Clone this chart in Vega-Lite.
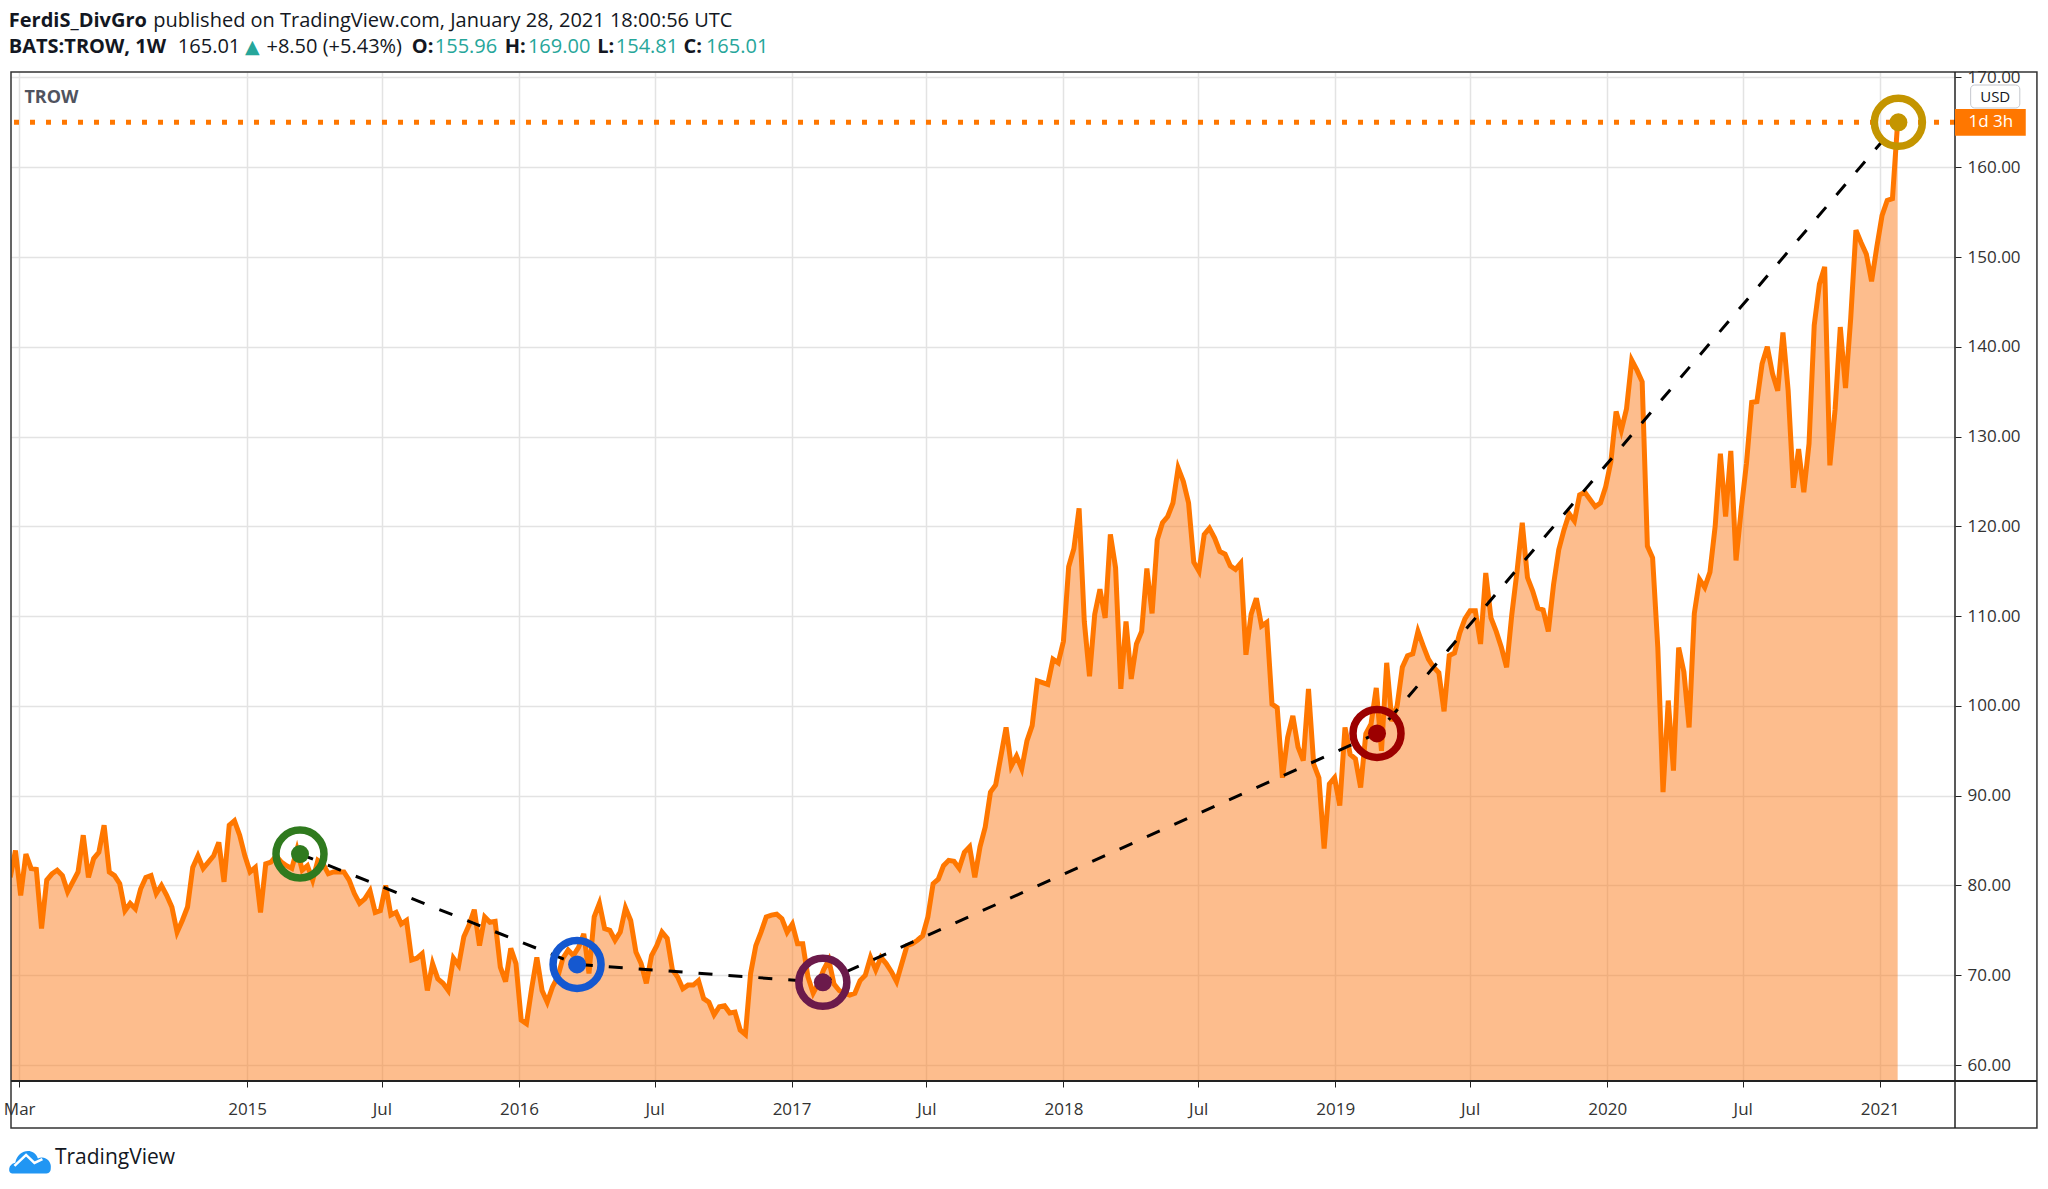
{
  "$schema": "https://vega.github.io/schema/vega-lite/v6.json",
  "width": 1944,
  "height": 1009,
  "autosize": {"type": "none"},
  "padding": {"left": 11, "top": 72, "right": 93, "bottom": 108},
  "background": "#ffffff",
  "config": {
    "view": {"stroke": null},
    "text": {"font": "Open Sans"},
    "axis": {"labelFont": "Open Sans"}
  },
  "datasets": {
    "weekly": [
      {"date":"2014-02-17","close":80.9},{"date":"2014-02-24","close":83.9},{"date":"2014-03-03","close":78.9},{"date":"2014-03-10","close":83.5},
      {"date":"2014-03-17","close":81.9},{"date":"2014-03-24","close":81.8},{"date":"2014-03-31","close":75.2},{"date":"2014-04-07","close":80.6},
      {"date":"2014-04-14","close":81.3},{"date":"2014-04-21","close":81.7},{"date":"2014-04-28","close":81.1},{"date":"2014-05-05","close":79.3},
      {"date":"2014-05-12","close":80.4},{"date":"2014-05-19","close":81.5},{"date":"2014-05-26","close":85.6},{"date":"2014-06-02","close":80.9},
      {"date":"2014-06-09","close":83.0},{"date":"2014-06-16","close":83.7},{"date":"2014-06-23","close":86.7},{"date":"2014-06-30","close":81.5},
      {"date":"2014-07-07","close":81.1},{"date":"2014-07-14","close":80.2},{"date":"2014-07-21","close":77.2},{"date":"2014-07-28","close":78.0},
      {"date":"2014-08-04","close":77.4},{"date":"2014-08-11","close":79.6},{"date":"2014-08-18","close":80.9},{"date":"2014-08-25","close":81.1},
      {"date":"2014-09-01","close":79.1},{"date":"2014-09-08","close":80.0},{"date":"2014-09-15","close":78.9},{"date":"2014-09-22","close":77.6},
      {"date":"2014-09-29","close":74.8},{"date":"2014-10-06","close":76.1},{"date":"2014-10-13","close":77.6},{"date":"2014-10-20","close":82.0},
      {"date":"2014-10-27","close":83.3},{"date":"2014-11-03","close":81.9},{"date":"2014-11-10","close":82.6},{"date":"2014-11-17","close":83.3},
      {"date":"2014-11-24","close":84.8},{"date":"2014-12-01","close":80.4},{"date":"2014-12-08","close":86.7},{"date":"2014-12-15","close":87.2},
      {"date":"2014-12-22","close":85.6},{"date":"2014-12-29","close":83.3},{"date":"2015-01-05","close":81.5},{"date":"2015-01-12","close":82.0},
      {"date":"2015-01-19","close":77.0},{"date":"2015-01-26","close":82.4},{"date":"2015-02-02","close":82.6},{"date":"2015-02-09","close":83.3},
      {"date":"2015-02-16","close":82.6},{"date":"2015-02-23","close":82.2},{"date":"2015-03-02","close":81.9},{"date":"2015-03-09","close":84.0},
      {"date":"2015-03-16","close":81.7},{"date":"2015-03-23","close":82.2},{"date":"2015-03-30","close":80.6},{"date":"2015-04-06","close":82.8},
      {"date":"2015-04-13","close":82.4},{"date":"2015-04-20","close":81.3},{"date":"2015-04-27","close":81.5},{"date":"2015-05-04","close":81.5},
      {"date":"2015-05-11","close":81.5},{"date":"2015-05-18","close":80.6},{"date":"2015-05-25","close":79.1},{"date":"2015-06-01","close":78.0},
      {"date":"2015-06-08","close":78.5},{"date":"2015-06-15","close":79.4},{"date":"2015-06-22","close":77.0},{"date":"2015-06-29","close":77.2},
      {"date":"2015-07-06","close":80.0},{"date":"2015-07-13","close":76.7},{"date":"2015-07-20","close":77.0},{"date":"2015-07-27","close":75.7},
      {"date":"2015-08-03","close":76.1},{"date":"2015-08-10","close":71.7},{"date":"2015-08-17","close":71.9},{"date":"2015-08-24","close":72.4},
      {"date":"2015-08-31","close":68.3},{"date":"2015-09-07","close":71.3},{"date":"2015-09-14","close":69.6},{"date":"2015-09-21","close":69.1},
      {"date":"2015-09-28","close":68.3},{"date":"2015-10-05","close":71.9},{"date":"2015-10-12","close":71.1},{"date":"2015-10-19","close":74.3},
      {"date":"2015-10-26","close":75.6},{"date":"2015-11-02","close":77.3},{"date":"2015-11-09","close":73.3},{"date":"2015-11-16","close":76.5},
      {"date":"2015-11-23","close":75.9},{"date":"2015-11-30","close":76.0},{"date":"2015-12-07","close":70.9},{"date":"2015-12-14","close":69.3},
      {"date":"2015-12-21","close":73.0},{"date":"2015-12-28","close":71.3},{"date":"2016-01-04","close":65.0},{"date":"2016-01-11","close":64.6},
      {"date":"2016-01-18","close":68.5},{"date":"2016-01-25","close":72.0},{"date":"2016-02-01","close":68.3},{"date":"2016-02-08","close":67.0},
      {"date":"2016-02-15","close":68.7},{"date":"2016-02-22","close":69.8},{"date":"2016-02-29","close":71.9},{"date":"2016-03-07","close":72.8},
      {"date":"2016-03-14","close":72.2},{"date":"2016-03-21","close":73.1},{"date":"2016-03-28","close":74.6},{"date":"2016-04-04","close":70.2},
      {"date":"2016-04-11","close":76.5},{"date":"2016-04-18","close":78.0},{"date":"2016-04-25","close":75.2},{"date":"2016-05-02","close":75.0},
      {"date":"2016-05-09","close":73.9},{"date":"2016-05-16","close":74.8},{"date":"2016-05-23","close":77.5},{"date":"2016-05-30","close":76.1},
      {"date":"2016-06-06","close":72.6},{"date":"2016-06-13","close":71.3},{"date":"2016-06-20","close":69.1},{"date":"2016-06-27","close":72.2},
      {"date":"2016-07-04","close":73.3},{"date":"2016-07-11","close":74.8},{"date":"2016-07-18","close":74.1},{"date":"2016-07-25","close":70.6},
      {"date":"2016-08-01","close":69.8},{"date":"2016-08-08","close":68.5},{"date":"2016-08-15","close":68.9},{"date":"2016-08-22","close":68.9},
      {"date":"2016-08-29","close":69.4},{"date":"2016-09-05","close":67.4},{"date":"2016-09-12","close":67.0},{"date":"2016-09-19","close":65.6},
      {"date":"2016-09-26","close":66.5},{"date":"2016-10-03","close":66.6},{"date":"2016-10-10","close":65.8},{"date":"2016-10-17","close":65.9},
      {"date":"2016-10-24","close":63.9},{"date":"2016-10-31","close":63.4},{"date":"2016-11-07","close":70.2},{"date":"2016-11-14","close":73.3},
      {"date":"2016-11-21","close":74.8},{"date":"2016-11-28","close":76.5},{"date":"2016-12-05","close":76.7},{"date":"2016-12-12","close":76.8},
      {"date":"2016-12-19","close":76.3},{"date":"2016-12-26","close":74.8},{"date":"2017-01-02","close":75.7},{"date":"2017-01-09","close":73.5},
      {"date":"2017-01-16","close":73.5},{"date":"2017-01-23","close":69.8},{"date":"2017-01-30","close":68.0},{"date":"2017-02-06","close":69.1},
      {"date":"2017-02-13","close":70.6},{"date":"2017-02-20","close":71.7},{"date":"2017-02-27","close":69.0},{"date":"2017-03-06","close":68.3},
      {"date":"2017-03-13","close":68.0},{"date":"2017-03-20","close":67.8},{"date":"2017-03-27","close":68.0},{"date":"2017-04-03","close":69.4},
      {"date":"2017-04-10","close":70.0},{"date":"2017-04-17","close":72.0},{"date":"2017-04-24","close":70.6},{"date":"2017-05-01","close":72.0},
      {"date":"2017-05-08","close":71.3},{"date":"2017-05-15","close":70.4},{"date":"2017-05-22","close":69.3},{"date":"2017-05-29","close":71.3},
      {"date":"2017-06-05","close":73.3},{"date":"2017-06-12","close":73.5},{"date":"2017-06-19","close":73.9},{"date":"2017-06-26","close":74.4},
      {"date":"2017-07-03","close":76.5},{"date":"2017-07-10","close":80.2},{"date":"2017-07-17","close":80.7},{"date":"2017-07-24","close":82.2},
      {"date":"2017-07-31","close":82.8},{"date":"2017-08-07","close":82.7},{"date":"2017-08-14","close":81.9},{"date":"2017-08-21","close":83.7},
      {"date":"2017-08-28","close":84.3},{"date":"2017-09-04","close":80.9},{"date":"2017-09-11","close":84.3},{"date":"2017-09-18","close":86.5},
      {"date":"2017-09-25","close":90.4},{"date":"2017-10-02","close":91.2},{"date":"2017-10-09","close":94.4},{"date":"2017-10-16","close":97.6},
      {"date":"2017-10-23","close":93.3},{"date":"2017-10-30","close":94.4},{"date":"2017-11-06","close":93.0},{"date":"2017-11-13","close":96.1},
      {"date":"2017-11-20","close":97.8},{"date":"2017-11-27","close":102.8},{"date":"2017-12-04","close":102.6},{"date":"2017-12-11","close":102.4},
      {"date":"2017-12-18","close":105.2},{"date":"2017-12-25","close":104.8},{"date":"2018-01-01","close":107.2},{"date":"2018-01-08","close":115.5},
      {"date":"2018-01-15","close":117.5},{"date":"2018-01-22","close":122.0},{"date":"2018-01-29","close":109.4},{"date":"2018-02-05","close":103.3},
      {"date":"2018-02-12","close":110.2},{"date":"2018-02-19","close":113.0},{"date":"2018-02-26","close":109.8},{"date":"2018-03-05","close":119.1},
      {"date":"2018-03-12","close":115.4},{"date":"2018-03-19","close":101.9},{"date":"2018-03-26","close":109.4},{"date":"2018-04-02","close":103.0},
      {"date":"2018-04-09","close":106.9},{"date":"2018-04-16","close":108.3},{"date":"2018-04-23","close":115.3},{"date":"2018-04-30","close":110.3},
      {"date":"2018-05-07","close":118.5},{"date":"2018-05-14","close":120.4},{"date":"2018-05-21","close":121.1},{"date":"2018-05-28","close":122.6},
      {"date":"2018-06-04","close":126.5},{"date":"2018-06-11","close":125.0},{"date":"2018-06-18","close":122.6},{"date":"2018-06-25","close":116.0},
      {"date":"2018-07-02","close":115.0},{"date":"2018-07-09","close":119.1},{"date":"2018-07-16","close":119.8},{"date":"2018-07-23","close":118.7},
      {"date":"2018-07-30","close":117.2},{"date":"2018-08-06","close":116.9},{"date":"2018-08-13","close":115.6},{"date":"2018-08-20","close":115.2},
      {"date":"2018-08-27","close":115.9},{"date":"2018-09-03","close":105.7},{"date":"2018-09-10","close":110.2},{"date":"2018-09-17","close":112.0},
      {"date":"2018-09-24","close":108.9},{"date":"2018-10-01","close":109.3},{"date":"2018-10-08","close":100.2},{"date":"2018-10-15","close":99.8},
      {"date":"2018-10-22","close":92.0},{"date":"2018-10-29","close":96.5},{"date":"2018-11-05","close":98.9},{"date":"2018-11-12","close":95.4},
      {"date":"2018-11-19","close":93.9},{"date":"2018-11-26","close":101.9},{"date":"2018-12-03","close":93.5},{"date":"2018-12-10","close":92.0},
      {"date":"2018-12-17","close":84.1},{"date":"2018-12-24","close":91.3},{"date":"2018-12-31","close":92.0},{"date":"2019-01-07","close":88.9},
      {"date":"2019-01-14","close":97.6},{"date":"2019-01-21","close":94.6},{"date":"2019-01-28","close":94.1},{"date":"2019-02-04","close":90.9},
      {"date":"2019-02-11","close":96.9},{"date":"2019-02-18","close":98.0},{"date":"2019-02-25","close":102.0},{"date":"2019-03-04","close":95.0},
      {"date":"2019-03-11","close":104.8},{"date":"2019-03-18","close":98.3},{"date":"2019-03-25","close":100.0},{"date":"2019-04-01","close":104.3},
      {"date":"2019-04-08","close":105.6},{"date":"2019-04-15","close":105.8},{"date":"2019-04-22","close":108.3},{"date":"2019-04-29","close":106.7},
      {"date":"2019-05-06","close":105.2},{"date":"2019-05-13","close":104.3},{"date":"2019-05-20","close":103.7},{"date":"2019-05-27","close":99.4},
      {"date":"2019-06-03","close":105.6},{"date":"2019-06-10","close":105.9},{"date":"2019-06-17","close":108.1},{"date":"2019-06-24","close":109.7},
      {"date":"2019-07-01","close":110.6},{"date":"2019-07-08","close":110.6},{"date":"2019-07-15","close":106.9},{"date":"2019-07-22","close":114.8},
      {"date":"2019-07-29","close":109.8},{"date":"2019-08-05","close":108.3},{"date":"2019-08-12","close":106.5},{"date":"2019-08-19","close":104.3},
      {"date":"2019-08-26","close":110.2},{"date":"2019-09-02","close":115.0},{"date":"2019-09-09","close":120.4},{"date":"2019-09-16","close":114.3},
      {"date":"2019-09-23","close":112.8},{"date":"2019-09-30","close":110.9},{"date":"2019-10-07","close":110.7},{"date":"2019-10-14","close":108.3},
      {"date":"2019-10-21","close":113.5},{"date":"2019-10-28","close":117.4},{"date":"2019-11-04","close":119.6},{"date":"2019-11-11","close":121.4},
      {"date":"2019-11-18","close":120.6},{"date":"2019-11-25","close":123.5},{"date":"2019-12-02","close":123.8},{"date":"2019-12-09","close":123.0},
      {"date":"2019-12-16","close":122.2},{"date":"2019-12-23","close":122.6},{"date":"2019-12-30","close":124.4},{"date":"2020-01-06","close":127.2},
      {"date":"2020-01-13","close":132.8},{"date":"2020-01-20","close":130.7},{"date":"2020-01-27","close":133.1},{"date":"2020-02-03","close":138.5},
      {"date":"2020-02-10","close":137.4},{"date":"2020-02-17","close":136.1},{"date":"2020-02-24","close":117.8},{"date":"2020-03-02","close":116.5},
      {"date":"2020-03-09","close":106.5},{"date":"2020-03-16","close":90.4},{"date":"2020-03-23","close":100.6},{"date":"2020-03-30","close":92.8},
      {"date":"2020-04-06","close":106.5},{"date":"2020-04-13","close":103.8},{"date":"2020-04-20","close":97.6},{"date":"2020-04-27","close":110.3},
      {"date":"2020-05-04","close":114.1},{"date":"2020-05-11","close":113.2},{"date":"2020-05-18","close":114.9},{"date":"2020-05-25","close":120.0},
      {"date":"2020-06-01","close":128.1},{"date":"2020-06-08","close":121.1},{"date":"2020-06-15","close":128.4},{"date":"2020-06-22","close":116.2},
      {"date":"2020-06-29","close":121.9},{"date":"2020-07-06","close":127.0},{"date":"2020-07-13","close":133.8},{"date":"2020-07-20","close":133.9},
      {"date":"2020-07-27","close":138.1},{"date":"2020-08-03","close":140.0},{"date":"2020-08-10","close":137.0},{"date":"2020-08-17","close":135.1},
      {"date":"2020-08-24","close":141.6},{"date":"2020-08-31","close":135.1},{"date":"2020-09-07","close":124.3},{"date":"2020-09-14","close":128.6},
      {"date":"2020-09-21","close":123.8},{"date":"2020-09-28","close":129.2},{"date":"2020-10-05","close":142.4},{"date":"2020-10-12","close":147.0},
      {"date":"2020-10-19","close":148.9},{"date":"2020-10-26","close":126.8},{"date":"2020-11-02","close":133.0},{"date":"2020-11-09","close":142.2},
      {"date":"2020-11-16","close":135.4},{"date":"2020-11-23","close":143.2},{"date":"2020-11-30","close":153.0},{"date":"2020-12-07","close":151.6},
      {"date":"2020-12-14","close":150.3},{"date":"2020-12-21","close":147.3},{"date":"2020-12-28","close":151.1},{"date":"2021-01-04","close":154.6},
      {"date":"2021-01-11","close":156.3},{"date":"2021-01-18","close":156.5},{"date":"2021-01-25","close":165.01}
    ],
    "circles": [
      {"date":"2015-03-13","price":83.5,"pt":"a"},
      {"date":"2016-03-19","price":71.21,"pt":"b"},
      {"date":"2017-02-12","price":69.21,"pt":"c"},
      {"date":"2019-02-26","price":96.94,"pt":"d"},
      {"date":"2021-01-26","price":165.0,"pt":"e"}
    ]
  },
  "layer": [
    {
      "data": {"name": "weekly"},
      "mark": {"type": "area", "color": "#fb7b1c", "opacity": 0.5, "clip": true},
      "encoding": {
        "x": {
          "field": "date", "type": "temporal",
          "scale": {"type": "utc", "domain": [{"year":2014,"month":2,"date":18,"utc":true},{"year":2021,"month":4,"date":12,"utc":true}]},
          "axis": {
            "title": null,
            "values": [
              {"year":2014,"month":3,"date":1,"utc":true},{"year":2015,"month":1,"date":1,"utc":true},{"year":2015,"month":7,"date":1,"utc":true},
              {"year":2016,"month":1,"date":1,"utc":true},{"year":2016,"month":7,"date":1,"utc":true},{"year":2017,"month":1,"date":1,"utc":true},
              {"year":2017,"month":7,"date":1,"utc":true},{"year":2018,"month":1,"date":1,"utc":true},{"year":2018,"month":7,"date":1,"utc":true},
              {"year":2019,"month":1,"date":1,"utc":true},{"year":2019,"month":7,"date":1,"utc":true},{"year":2020,"month":1,"date":1,"utc":true},
              {"year":2020,"month":7,"date":1,"utc":true},{"year":2021,"month":1,"date":1,"utc":true}
            ],
            "labelExpr": "utcFormat(datum.value, '%m') === '01' ? utcFormat(datum.value, '%Y') : utcFormat(datum.value, '%b')",
            "grid": true, "gridColor": "#e3e3e3", "gridWidth": 1.5,
            "domain": false, "ticks": true, "tickSize": 6, "tickColor": "#222222",
            "labelFontSize": 17, "labelColor": "#333333", "labelPadding": 14,
            "labelFlush": false, "labelOverlap": false, "labelBound": false
          }
        },
        "y": {
          "field": "close", "type": "quantitative",
          "scale": {"domain": [58.22, 170.61], "nice": false, "zero": false},
          "axis": {
            "title": null, "orient": "right",
            "values": [60, 70, 80, 90, 100, 110, 120, 130, 140, 150, 160, 170],
            "format": ".2f",
            "grid": true, "gridColor": "#e3e3e3", "gridWidth": 1.5,
            "domain": false, "ticks": true, "tickSize": 6, "tickColor": "#222222",
            "labelFontSize": 17, "labelColor": "#333333", "labelPadding": 6,
            "labelFlush": false, "labelOverlap": false, "labelBound": false
          }
        },
        "y2": {"datum": 58.22}
      }
    },
    {
      "data": {"name": "weekly"},
      "mark": {"type": "line", "color": "#ff7700", "strokeWidth": 5, "clip": true},
      "encoding": {
        "x": {"field": "date", "type": "temporal"},
        "y": {"field": "close", "type": "quantitative"}
      }
    },
    {
      "data": {"values": [{}]},
      "mark": {"type": "rule", "color": "#ff7700", "strokeWidth": 5, "strokeDash": [5, 11]},
      "encoding": {"y": {"datum": 165.01, "type": "quantitative"}}
    },
    {
      "data": {"name": "circles"},
      "mark": {"type": "line", "color": "#000000", "strokeWidth": 3, "strokeDash": [14, 16]},
      "encoding": {
        "x": {"field": "date", "type": "temporal"},
        "y": {"field": "price", "type": "quantitative"}
      }
    },
    {
      "data": {"name": "circles"},
      "mark": {"type": "point", "filled": false, "strokeWidth": 7.5, "size": 2304, "opacity": 1},
      "encoding": {
        "x": {"field": "date", "type": "temporal"},
        "y": {"field": "price", "type": "quantitative"},
        "color": {
          "field": "pt", "type": "nominal", "legend": null,
          "scale": {"domain": ["a", "b", "c", "d", "e"], "range": ["#2f7a1e", "#1558d0", "#6b1a4b", "#9c0000", "#c49500"]}
        }
      }
    },
    {
      "data": {"name": "circles"},
      "mark": {"type": "circle", "size": 324, "opacity": 1},
      "encoding": {
        "x": {"field": "date", "type": "temporal"},
        "y": {"field": "price", "type": "quantitative"},
        "color": {"field": "pt", "type": "nominal", "legend": null}
      }
    },
    {
      "data": {"values": [{}]},
      "layer": [
        {
          "mark": {"type": "rect", "fillOpacity": 0, "stroke": "#333333", "strokeWidth": 1.5},
          "encoding": {
            "x": {"datum": {"year":2014,"month":2,"date":18,"utc":true}, "type": "temporal"},
            "x2": {"datum": {"year":2021,"month":7,"date":31,"utc":true}},
            "y": {"datum": 170.61, "type": "quantitative"},
            "y2": {"datum": 52.98}
          }
        },
        {
          "mark": {"type": "rule", "color": "#222222", "strokeWidth": 1.5},
          "encoding": {
            "x": {"datum": {"year":2021,"month":4,"date":12,"utc":true}, "type": "temporal"},
            "y": {"datum": 170.61, "type": "quantitative"},
            "y2": {"datum": 52.98}
          }
        },
        {
          "mark": {"type": "rule", "color": "#222222", "strokeWidth": 2},
          "encoding": {
            "x": {"datum": {"year":2014,"month":2,"date":18,"utc":true}, "type": "temporal"},
            "x2": {"datum": {"year":2021,"month":7,"date":31,"utc":true}},
            "y": {"datum": 58.22, "type": "quantitative"}
          }
        },
        {
          "mark": {"type": "rect", "fill": "#ffffff", "stroke": "#c5c8ce", "strokeWidth": 1, "cornerRadius": 4},
          "encoding": {
            "x": {"datum": {"year":2021,"month":5,"date":3,"utc":true}, "type": "temporal"},
            "x2": {"datum": {"year":2021,"month":7,"date":8,"utc":true}},
            "y": {"datum": 169.16, "type": "quantitative"},
            "y2": {"datum": 166.6}
          }
        },
        {
          "mark": {"type": "text", "text": "USD", "fontSize": 15, "color": "#131722", "align": "center", "baseline": "middle"},
          "encoding": {
            "x": {"datum": {"year":2021,"month":6,"date":5,"utc":true}, "type": "temporal"},
            "y": {"datum": 167.88, "type": "quantitative"}
          }
        },
        {
          "mark": {"type": "rect", "fill": "#ff7700"},
          "encoding": {
            "x": {"datum": {"year":2021,"month":4,"date":12,"utc":true}, "type": "temporal"},
            "x2": {"datum": {"year":2021,"month":7,"date":16,"utc":true}},
            "y": {"datum": 166.5, "type": "quantitative"},
            "y2": {"datum": 163.52}
          }
        },
        {
          "mark": {"type": "text", "text": "1d 3h", "fontSize": 17, "color": "#ffffff", "align": "center", "baseline": "middle"},
          "encoding": {
            "x": {"datum": {"year":2021,"month":5,"date":30,"utc":true}, "type": "temporal"},
            "y": {"datum": 165.01, "type": "quantitative"}
          }
        },
        {
          "mark": {"type": "text", "text": "TROW", "fontSize": 18, "fontWeight": "bold", "color": "#50535e", "align": "left", "baseline": "middle"},
          "encoding": {
            "x": {"datum": {"year":2014,"month":3,"date":8,"utc":true}, "type": "temporal"},
            "y": {"datum": 167.71, "type": "quantitative"}
          }
        },
        {
          "mark": {"type": "text", "text": "FerdiS_DivGro", "fontSize": 20, "fontWeight": "bold", "color": "#131722", "align": "left", "baseline": "middle"},
          "encoding": {
            "x": {"datum": {"year":2014,"month":2,"date":15,"utc":true}, "type": "temporal"},
            "y": {"datum": 176.32, "type": "quantitative"}
          }
        },
        {
          "mark": {"type": "text", "text": "published on TradingView.com, January 28, 2021 18:00:56 UTC", "fontSize": 20, "color": "#131722", "align": "left", "baseline": "middle"},
          "encoding": {
            "x": {"datum": {"year":2014,"month":8,"date":28,"utc":true}, "type": "temporal"},
            "y": {"datum": 176.32, "type": "quantitative"}
          }
        },
        {
          "mark": {"type": "text", "text": "BATS:TROW, 1W", "fontSize": 20, "fontWeight": "bold", "color": "#131722", "align": "left", "baseline": "middle"},
          "encoding": {
            "x": {"datum": {"year":2014,"month":2,"date":15,"utc":true}, "type": "temporal"},
            "y": {"datum": 173.43, "type": "quantitative"}
          }
        },
        {
          "mark": {"type": "text", "text": "165.01", "fontSize": 20, "color": "#131722", "align": "left", "baseline": "middle"},
          "encoding": {
            "x": {"datum": {"year":2014,"month":9,"date":30,"utc":true}, "type": "temporal"},
            "y": {"datum": 173.43, "type": "quantitative"}
          }
        },
        {
          "mark": {"type": "text", "text": "▲", "font": "DejaVu Sans", "fontSize": 19, "color": "#26a69a", "align": "left", "baseline": "middle"},
          "encoding": {
            "x": {"datum": {"year":2014,"month":12,"date":29,"utc":true}, "type": "temporal"},
            "y": {"datum": 173.43, "type": "quantitative"}
          }
        },
        {
          "mark": {"type": "text", "text": "+8.50 (+5.43%)", "fontSize": 20, "color": "#131722", "align": "left", "baseline": "middle"},
          "encoding": {
            "x": {"datum": {"year":2015,"month":1,"date":27,"utc":true}, "type": "temporal"},
            "y": {"datum": 173.43, "type": "quantitative"}
          }
        },
        {
          "mark": {"type": "text", "text": "O:", "fontSize": 20, "fontWeight": "bold", "color": "#131722", "align": "left", "baseline": "middle"},
          "encoding": {
            "x": {"datum": {"year":2015,"month":8,"date":10,"utc":true}, "type": "temporal"},
            "y": {"datum": 173.43, "type": "quantitative"}
          }
        },
        {
          "mark": {"type": "text", "text": "155.96", "fontSize": 20, "color": "#26a69a", "align": "left", "baseline": "middle"},
          "encoding": {
            "x": {"datum": {"year":2015,"month":9,"date":10,"utc":true}, "type": "temporal"},
            "y": {"datum": 173.43, "type": "quantitative"}
          }
        },
        {
          "mark": {"type": "text", "text": "H:", "fontSize": 20, "fontWeight": "bold", "color": "#131722", "align": "left", "baseline": "middle"},
          "encoding": {
            "x": {"datum": {"year":2015,"month":12,"date":13,"utc":true}, "type": "temporal"},
            "y": {"datum": 173.43, "type": "quantitative"}
          }
        },
        {
          "mark": {"type": "text", "text": "169.00", "fontSize": 20, "color": "#26a69a", "align": "left", "baseline": "middle"},
          "encoding": {
            "x": {"datum": {"year":2016,"month":1,"date":13,"utc":true}, "type": "temporal"},
            "y": {"datum": 173.43, "type": "quantitative"}
          }
        },
        {
          "mark": {"type": "text", "text": "L:", "fontSize": 20, "fontWeight": "bold", "color": "#131722", "align": "left", "baseline": "middle"},
          "encoding": {
            "x": {"datum": {"year":2016,"month":4,"date":15,"utc":true}, "type": "temporal"},
            "y": {"datum": 173.43, "type": "quantitative"}
          }
        },
        {
          "mark": {"type": "text", "text": "154.81", "fontSize": 20, "color": "#26a69a", "align": "left", "baseline": "middle"},
          "encoding": {
            "x": {"datum": {"year":2016,"month":5,"date":10,"utc":true}, "type": "temporal"},
            "y": {"datum": 173.43, "type": "quantitative"}
          }
        },
        {
          "mark": {"type": "text", "text": "C:", "fontSize": 20, "fontWeight": "bold", "color": "#131722", "align": "left", "baseline": "middle"},
          "encoding": {
            "x": {"datum": {"year":2016,"month":8,"date":9,"utc":true}, "type": "temporal"},
            "y": {"datum": 173.43, "type": "quantitative"}
          }
        },
        {
          "mark": {"type": "text", "text": "165.01", "fontSize": 20, "color": "#26a69a", "align": "left", "baseline": "middle"},
          "encoding": {
            "x": {"datum": {"year":2016,"month":9,"date":8,"utc":true}, "type": "temporal"},
            "y": {"datum": 173.43, "type": "quantitative"}
          }
        },
        {
          "mark": {"type": "point", "shape": "M-0.85,0.5 C-1.05,0.5 -1.05,0.05 -0.7,0 C-0.6,-0.6 0.15,-0.75 0.35,-0.2 C0.7,-0.35 1,-0.05 0.95,0.25 C0.95,0.45 0.85,0.5 0.75,0.5 Z", "size": 1849, "filled": true, "color": "#2196f3", "opacity": 1},
          "encoding": {
            "x": {"datum": {"year":2014,"month":3,"date":16,"utc":true}, "type": "temporal"},
            "y": {"datum": 49.12, "type": "quantitative"}
          }
        },
        {
          "mark": {"type": "point", "shape": "M-0.74,0.15 L-0.2,-0.36 L0.19,0.01 L0.56,-0.17", "size": 1849, "filled": false, "stroke": "#ffffff", "strokeWidth": 2.5, "opacity": 1},
          "encoding": {
            "x": {"datum": {"year":2014,"month":3,"date":16,"utc":true}, "type": "temporal"},
            "y": {"datum": 49.12, "type": "quantitative"}
          }
        },
        {
          "mark": {"type": "text", "text": "TradingView", "fontSize": 21, "color": "#131722", "align": "left", "baseline": "middle"},
          "encoding": {
            "x": {"datum": {"year":2014,"month":4,"date":18,"utc":true}, "type": "temporal"},
            "y": {"datum": 49.61, "type": "quantitative"}
          }
        }
      ]
    }
  ]
}
